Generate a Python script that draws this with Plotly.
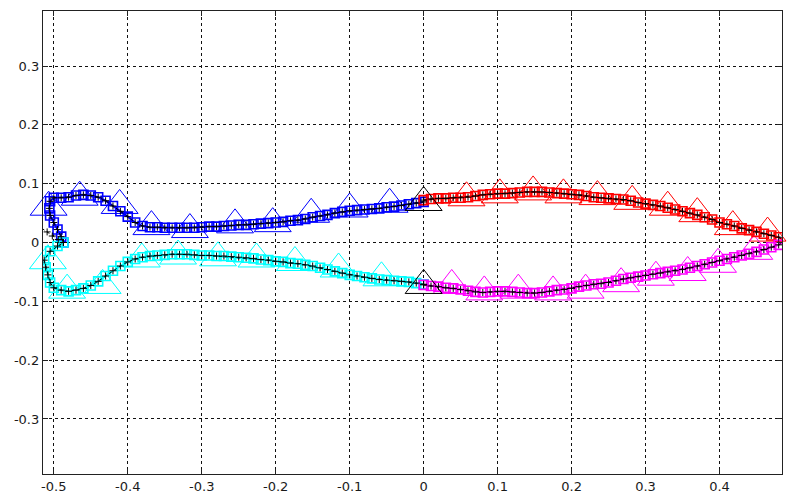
import plotly.graph_objects as go

# ---------------- data ----------------
blue_x = [0.000, -0.010, -0.020, -0.030, -0.040, -0.050, -0.060, -0.070, -0.080, -0.090,
          -0.100, -0.110, -0.120, -0.130, -0.140, -0.150, -0.160, -0.170, -0.180, -0.190,
          -0.200, -0.210, -0.220, -0.230, -0.240, -0.250, -0.260, -0.270, -0.280, -0.290,
          -0.300, -0.310, -0.320, -0.330, -0.340, -0.350, -0.360, -0.370, -0.380, -0.390,
          -0.400, -0.410, -0.420, -0.430, -0.440, -0.450, -0.460, -0.470, -0.480, -0.490,
          -0.500, -0.505, -0.506, -0.505, -0.500, -0.495, -0.490, -0.487]
blue_y = [0.069, 0.067, 0.065, 0.063, 0.061, 0.060, 0.058, 0.057, 0.056, 0.055,
          0.054, 0.052, 0.050, 0.047, 0.045, 0.043, 0.040, 0.038, 0.037, 0.035,
          0.034, 0.033, 0.032, 0.031, 0.030, 0.030, 0.029, 0.028, 0.027, 0.027,
          0.026, 0.025, 0.025, 0.025, 0.025, 0.025, 0.026, 0.026, 0.028, 0.034,
          0.044, 0.053, 0.062, 0.071, 0.077, 0.080, 0.081, 0.080, 0.077, 0.076,
          0.076, 0.070, 0.058, 0.046, 0.034, 0.022, 0.010, 0.000]

cyan_x = [0.000, -0.010, -0.020, -0.030, -0.040, -0.050, -0.060, -0.070, -0.080, -0.090,
          -0.100, -0.110, -0.120, -0.130, -0.140, -0.150, -0.160, -0.170, -0.180, -0.190,
          -0.200, -0.210, -0.220, -0.230, -0.240, -0.250, -0.260, -0.270, -0.280, -0.290,
          -0.300, -0.310, -0.320, -0.330, -0.340, -0.350, -0.360, -0.370, -0.380, -0.390,
          -0.400, -0.410, -0.420, -0.430, -0.440, -0.450, -0.460, -0.470, -0.480, -0.490,
          -0.500, -0.505, -0.508, -0.511, -0.513, -0.505, -0.495, -0.487]
cyan_y = [-0.071, -0.069, -0.067, -0.066, -0.065, -0.064, -0.063, -0.061, -0.059, -0.057,
          -0.055, -0.052, -0.049, -0.046, -0.043, -0.040, -0.038, -0.036, -0.035, -0.033,
          -0.032, -0.030, -0.029, -0.027, -0.026, -0.025, -0.024, -0.023, -0.023, -0.022,
          -0.022, -0.021, -0.020, -0.020, -0.020, -0.021, -0.022, -0.023, -0.025, -0.028,
          -0.033, -0.040, -0.048, -0.057, -0.066, -0.073, -0.078, -0.081, -0.083, -0.081,
          -0.077, -0.068, -0.055, -0.042, -0.030, -0.015, -0.006, 0.000]

red_x = [0.000, 0.010, 0.020, 0.030, 0.040, 0.050, 0.060, 0.070, 0.080, 0.090,
         0.100, 0.110, 0.120, 0.130, 0.140, 0.150, 0.160, 0.170, 0.180, 0.190,
         0.200, 0.210, 0.220, 0.230, 0.240, 0.250, 0.260, 0.270, 0.280, 0.290,
         0.300, 0.310, 0.320, 0.330, 0.340, 0.350, 0.360, 0.370, 0.380, 0.390,
         0.400, 0.410, 0.420, 0.430, 0.440, 0.450, 0.460, 0.470, 0.480, 0.485]
red_y = [0.072, 0.074, 0.075, 0.075, 0.076, 0.076, 0.077, 0.079, 0.081, 0.082,
         0.083, 0.083, 0.084, 0.085, 0.086, 0.086, 0.086, 0.085, 0.084, 0.083,
         0.082, 0.081, 0.079, 0.077, 0.076, 0.075, 0.074, 0.073, 0.071, 0.068,
         0.066, 0.064, 0.062, 0.059, 0.056, 0.053, 0.050, 0.047, 0.043, 0.039,
         0.034, 0.031, 0.028, 0.024, 0.021, 0.018, 0.015, 0.012, 0.009, 0.005]

magenta_x = [0.000, 0.010, 0.020, 0.030, 0.040, 0.050, 0.060, 0.070, 0.080, 0.090,
             0.100, 0.110, 0.120, 0.130, 0.140, 0.150, 0.160, 0.170, 0.180, 0.190,
             0.200, 0.210, 0.220, 0.230, 0.240, 0.250, 0.260, 0.270, 0.280, 0.290,
             0.300, 0.310, 0.320, 0.330, 0.340, 0.350, 0.360, 0.370, 0.380, 0.390,
             0.400, 0.410, 0.420, 0.430, 0.440, 0.450, 0.460, 0.470, 0.480, 0.485]
magenta_y = [-0.072, -0.074, -0.075, -0.077, -0.078, -0.080, -0.082, -0.084, -0.085, -0.084,
             -0.083, -0.083, -0.084, -0.085, -0.086, -0.086, -0.085, -0.083, -0.081, -0.080,
             -0.078, -0.075, -0.073, -0.071, -0.070, -0.068, -0.065, -0.062, -0.060, -0.058,
             -0.056, -0.054, -0.052, -0.050, -0.048, -0.046, -0.043, -0.040, -0.037, -0.034,
             -0.031, -0.028, -0.025, -0.022, -0.019, -0.016, -0.012, -0.008, -0.004, 0.000]

# sparse triangle markers
blue_tri_x = [-0.507, -0.465, -0.411, -0.368, -0.316, -0.255, -0.204, -0.152, -0.100, -0.046]
blue_tri_y = [0.060, 0.077, 0.063, 0.027, 0.022, 0.030, 0.032, 0.048, 0.057, 0.065]
cyan_tri_x = [-0.508, -0.482, -0.434, -0.381, -0.332, -0.278, -0.226, -0.174, -0.115, -0.057]
cyan_tri_y = [-0.031, -0.081, -0.073, -0.028, -0.023, -0.026, -0.028, -0.034, -0.045, -0.060]
red_tri_x = [0.058, 0.103, 0.148, 0.189, 0.235, 0.282, 0.330, 0.370, 0.418, 0.465]
red_tri_y = [0.076, 0.081, 0.086, 0.081, 0.078, 0.070, 0.060, 0.049, 0.027, 0.016]
magenta_tri_x = [0.038, 0.082, 0.128, 0.175, 0.219, 0.267, 0.314, 0.357, 0.398, 0.447]
magenta_tri_y = [-0.073, -0.084, -0.081, -0.084, -0.081, -0.070, -0.059, -0.051, -0.037, -0.015]

black_tri_x = [0.000, 0.000, -0.515]
black_tri_y = [0.068, -0.073, 0.000]
green_tri_x = [0.485]
green_tri_y = [0.000]

lead_x = [-0.516, -0.509, -0.502, -0.494, -0.487]
lead_y = [0.024, 0.018, 0.011, 0.005, 0.000]

plus_x = [-0.515]
plus_y = [0.000]

x_ticks = [-0.5, -0.4, -0.3, -0.2, -0.1, 0.0, 0.1, 0.2, 0.3, 0.4]
x_labels = ["-0.5", "-0.4", "-0.3", "-0.2", "-0.1", "0", "0.1", "0.2", "0.3", "0.4"]
y_ticks = [-0.3, -0.2, -0.1, 0.0, 0.1, 0.2, 0.3]
y_labels = ["-0.3", "-0.2", "-0.1", "0", "0.1", "0.2", "0.3"]

# ---------------- figure ----------------
fig = go.Figure()

series = [
    (blue_x, blue_y, blue_tri_x, blue_tri_y, "#0000ff"),
    (cyan_x, cyan_y, cyan_tri_x, cyan_tri_y, "#00ffff"),
    (red_x, red_y, red_tri_x, red_tri_y, "#ff0000"),
    (magenta_x, magenta_y, magenta_tri_x, magenta_tri_y, "#ff00ff"),
]

TRI = 32
for sx, sy, tx, ty, col in series:
    fig.add_trace(go.Scatter(
        x=tx, y=ty, mode="markers", cliponaxis=False,
        marker=dict(symbol="triangle-up-open", size=TRI, color=col,
                    line=dict(color=col, width=1)),
        hoverinfo="skip"))

for sx, sy, tx, ty, col in series:
    fig.add_trace(go.Scatter(
        x=sx, y=sy, mode="lines+markers",
        line=dict(color=col, width=2),
        marker=dict(symbol="square-open", size=9, color=col,
                    line=dict(color=col, width=1.6))))

for sx, sy, tx, ty, col in series:
    fig.add_trace(go.Scatter(
        x=sx, y=sy, mode="lines+markers",
        line=dict(color="black", width=1, dash="dot"),
        marker=dict(symbol="cross-thin-open", size=5, color="black",
                    line=dict(color="black", width=1))))

fig.add_trace(go.Scatter(
    x=lead_x, y=lead_y, mode="lines+markers",
    line=dict(color="black", width=1, dash="dot"),
    marker=dict(symbol="cross-thin-open", size=5, color="black",
                line=dict(color="black", width=1))))

fig.add_trace(go.Scatter(
    x=plus_x, y=plus_y, mode="markers", cliponaxis=False,
    marker=dict(symbol="cross-thin-open", size=18, color="#0000ff",
                line=dict(color="#0000ff", width=1.5))))

fig.add_trace(go.Scatter(
    x=black_tri_x, y=black_tri_y, mode="markers", cliponaxis=False,
    marker=dict(symbol="triangle-up-open", size=TRI, color="black",
                line=dict(color="black", width=1))))
fig.add_trace(go.Scatter(
    x=green_tri_x, y=green_tri_y, mode="markers", cliponaxis=False,
    marker=dict(symbol="triangle-up-open", size=TRI, color="#00ff00",
                line=dict(color="#00ff00", width=1))))

axis_common = dict(
    showgrid=True, gridcolor="#111111", gridwidth=1, griddash="3px,3px",
    zeroline=False, showline=True, linecolor="#222222", linewidth=1.3,
    mirror="ticks", ticks="inside", ticklen=5, tickcolor="#222222",
    tickfont=dict(family="DejaVu Sans", size=13, color="#1a1a1a"),
)

fig.update_layout(
    width=793, height=504,
    margin=dict(l=43, r=10, t=11, b=18),
    paper_bgcolor="white", plot_bgcolor="white",
    showlegend=False,
    xaxis=dict(range=[-0.5146, 0.4845], tickvals=x_ticks, ticktext=x_labels, **axis_common),
    yaxis=dict(range=[-0.3935, 0.3935], tickvals=y_ticks, ticktext=y_labels, **axis_common),
)

fig.write_html("out.html")
